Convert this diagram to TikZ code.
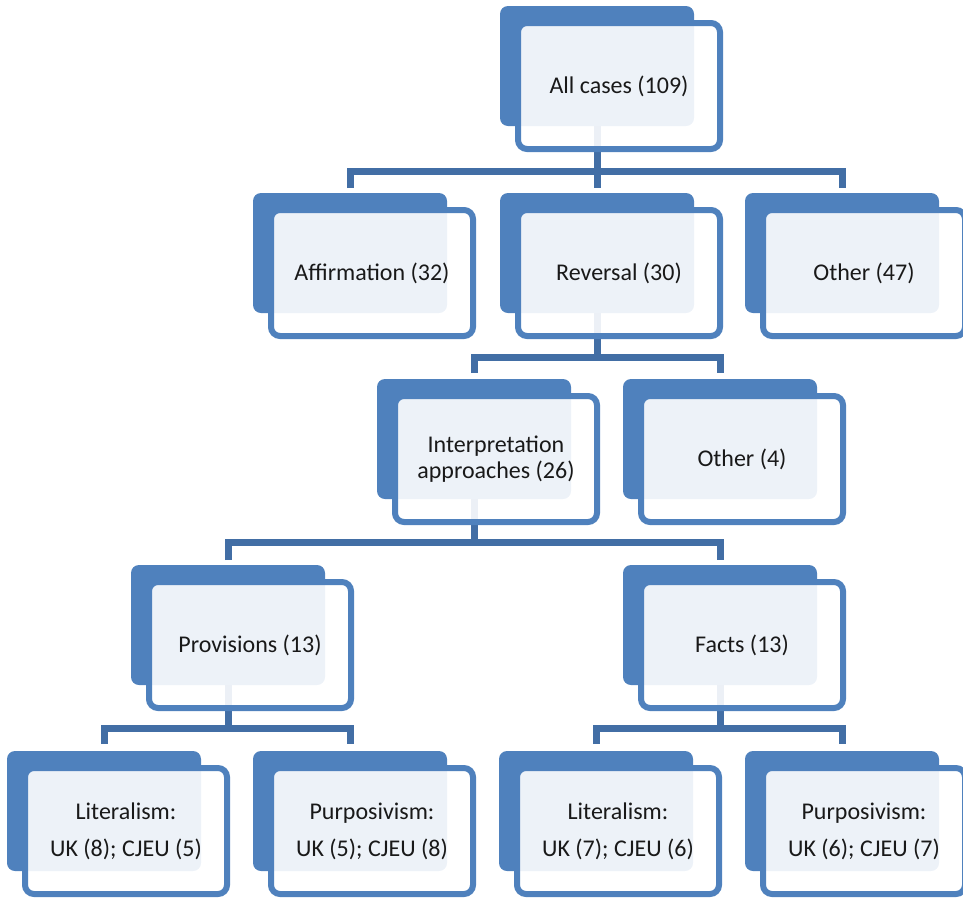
\documentclass[tikz,border=0pt]{standalone}
\usepackage{fontspec}
\setmainfont{Carlito}
\usetikzlibrary{backgrounds}
\definecolor{boxblue}{RGB}{79,129,189}
\definecolor{linkblue}{RGB}{66,110,165}
\definecolor{txt}{RGB}{25,25,25}
\begin{document}
\begin{tikzpicture}[x=1pt,y=-1pt,
  backbox/.style={fill=boxblue, rounded corners=8pt, minimum width=194pt, minimum height=120pt, inner sep=0pt, outer sep=0pt},
  frontbox/.style={draw=boxblue, line width=6pt, fill=white, fill opacity=0.9, text opacity=1, rounded corners=9pt,
     minimum width=202pt, minimum height=126pt, inner sep=0pt, text=txt, align=center,
     font=\fontsize{24}{26}\selectfont},
  tall/.style={font=\fontsize{24}{37}\selectfont},
  conn/.style={draw=linkblue, line width=7pt, line join=miter},
  fpos/.style={xshift=22pt, yshift=-20pt}]
\useasboundingbox (0,0) rectangle (963,900);
% back boxes
\node[backbox] (all)    at (597,66)  {};
\node[backbox] (aff)    at (350,253) {};
\node[backbox] (rev)    at (597,253) {};
\node[backbox] (oth1)   at (842,253) {};
\node[backbox] (interp) at (474,439) {};
\node[backbox] (oth2)   at (720,439) {};
\node[backbox] (prov)   at (228,625) {};
\node[backbox] (facts)  at (720,625) {};
\node[backbox] (lit1)   at (104,811) {};
\node[backbox] (pur1)   at (350,811) {};
\node[backbox] (lit2)   at (596,811) {};
\node[backbox] (pur2)   at (842,811) {};
% front boxes
\node[frontbox] (allF)    at ([fpos]all.center)    {All cases (109)};
\node[frontbox] (affF)    at ([fpos]aff.center)    {Affirmation (32)};
\node[frontbox] (revF)    at ([fpos]rev.center)    {Reversal (30)};
\node[frontbox] (oth1F)   at ([fpos]oth1.center)   {Other (47)};
\node[frontbox] (interpF) at ([fpos]interp.center) {Interpretation\\approaches (26)};
\node[frontbox] (oth2F)   at ([fpos]oth2.center)   {Other (4)};
\node[frontbox] (provF)   at ([fpos]prov.center)   {Provisions (13)};
\node[frontbox] (factsF)  at ([fpos]facts.center)  {Facts (13)};
\node[frontbox,tall] (lit1F) at ([fpos]lit1.center) {Literalism:\\UK (8); CJEU (5)};
\node[frontbox,tall] (pur1F) at ([fpos]pur1.center) {Purposivism:\\UK (5); CJEU (8)};
\node[frontbox,tall] (lit2F) at ([fpos]lit2.center) {Literalism:\\UK (7); CJEU (6)};
\node[frontbox,tall] (pur2F) at ([fpos]pur2.center) {Purposivism:\\UK (6); CJEU (7)};
% bus levels
\coordinate (bus1) at (0,171);
\coordinate (bus2) at (0,357);
\coordinate (bus3) at (0,542);
\coordinate (bus4) at (0,728);
\begin{scope}[on background layer]
\draw[conn] (all.center) -- (all.center |- bus1);
\draw[conn] ([yshift=5pt]aff.north) -- (aff.north |- bus1) -- (oth1.north |- bus1) -- ([yshift=5pt]oth1.north);
\draw[conn] (rev.north |- bus1) -- ([yshift=5pt]rev.north);
\draw[conn] (rev.center) -- (rev.center |- bus2);
\draw[conn] ([yshift=6pt]interp.north) -- (interp.north |- bus2) -- (oth2.north |- bus2) -- ([yshift=6pt]oth2.north);
\draw[conn] (interp.center) -- (interp.center |- bus3);
\draw[conn] ([yshift=5pt]prov.north) -- (prov.north |- bus3) -- (facts.north |- bus3) -- ([yshift=5pt]facts.north);
\draw[conn] (prov.center) -- (prov.center |- bus4);
\draw[conn] ([yshift=7pt]lit1.north) -- (lit1.north |- bus4) -- (pur1.north |- bus4) -- ([yshift=7pt]pur1.north);
\draw[conn] (facts.center) -- (facts.center |- bus4);
\draw[conn] ([yshift=7pt]lit2.north) -- (lit2.north |- bus4) -- (pur2.north |- bus4) -- ([yshift=7pt]pur2.north);
\end{scope}
\end{tikzpicture}
\end{document}
